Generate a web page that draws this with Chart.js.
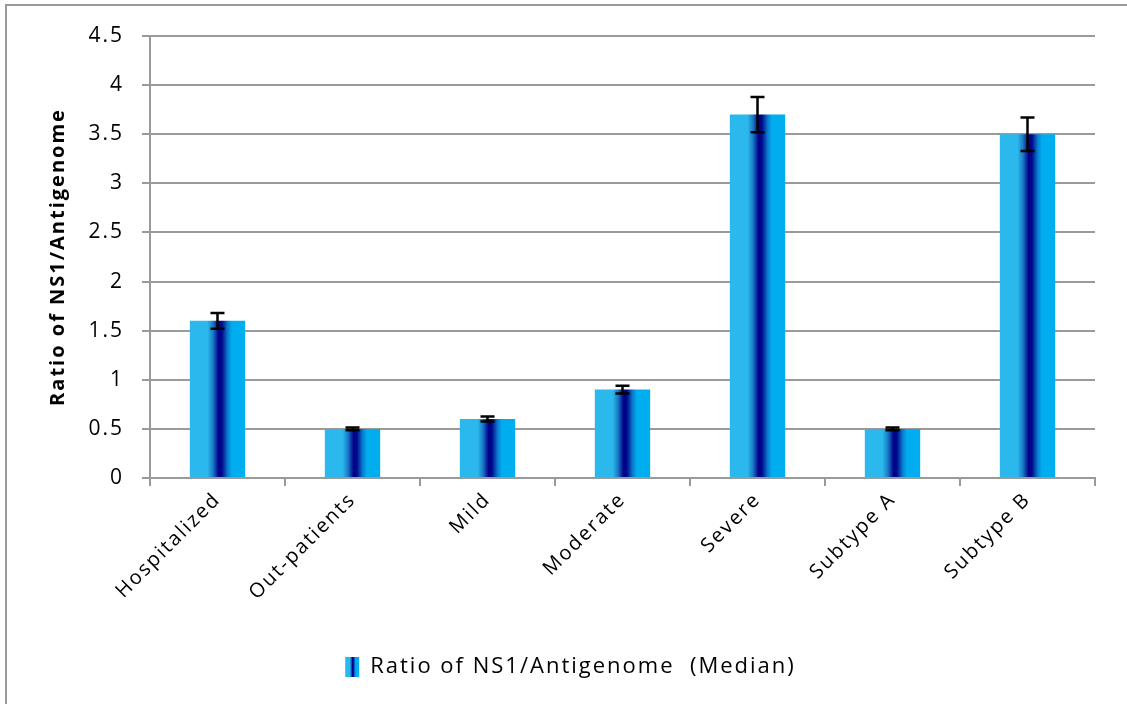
<!DOCTYPE html>
<html>
<head>
<meta charset="utf-8">
<script src="https://cdn.jsdelivr.net/npm/chart.js@4.4.1/dist/chart.umd.min.js"></script>
<style>
  html, body { margin: 0; padding: 0; background: #fff; }
  #wrap { position: relative; width: 1127px; height: 704px; overflow: hidden; }
  #frame { position: absolute; left: 5px; top: 4px; width: 1140px; height: 720px; border: 2px solid #9a9a9a; box-sizing: border-box; }
  canvas { position: absolute; left: 0; top: 0; }
</style>
</head>
<body>
<div id="wrap">
  <div id="frame"></div>
  <canvas id="c" width="1127" height="704"></canvas>
</div>
<script>
// Median NS1/antigenome ratio per patient group, with error half-widths
const categories = ['Hospitalized', 'Out-patients', 'Mild', 'Moderate', 'Severe', 'Subtype A', 'Subtype B'];
const medians = [1.6, 0.5, 0.6, 0.9, 3.7, 0.5, 3.5];
const errors = [0.08, 0.015, 0.025, 0.04, 0.18, 0.015, 0.17];
const yTicks = [0, 0.5, 1, 1.5, 2, 2.5, 3, 3.5, 4, 4.5];
const seriesName = 'Ratio of NS1/Antigenome  (Median)';
const yTitle = 'Ratio of NS1/Antigenome';

const FONT = '"Open Sans", Lato, sans-serif';
const BAR_PCT = 0.41;

function barGradient(ctx, x0, x1) {
  const g = ctx.createLinearGradient(x0, 0, x1, 0);
  g.addColorStop(0, '#2bb8ed');
  g.addColorStop(0.32, '#2bb8ed');
  g.addColorStop(0.42, '#1a78c4');
  g.addColorStop(0.52, '#00008a');
  g.addColorStop(0.58, '#000a8a');
  g.addColorStop(0.68, '#0a78cc');
  g.addColorStop(0.76, '#00aeef');
  g.addColorStop(1, '#00aeef');
  return g;
}

// Slightly wider text spacing for all labels
const spacing = {
  id: 'spacing',
  beforeInit(chart) { chart.ctx.letterSpacing = '2px'; },
  beforeLayout(chart) { chart.ctx.letterSpacing = '2px'; },
  beforeDraw(chart) { chart.ctx.letterSpacing = '2px'; }
};

// Error bars drawn from the same arrays through the chart scales
const errorBars = {
  id: 'errorBars',
  afterDatasetsDraw(chart) {
    const ctx = chart.ctx;
    const meta = chart.getDatasetMeta(0);
    const y = chart.scales.y;
    ctx.save();
    ctx.strokeStyle = '#000';
    ctx.lineWidth = 2.5;
    meta.data.forEach((bar, i) => {
      const x = bar.x;
      const top = y.getPixelForValue(medians[i] + errors[i]);
      const bot = y.getPixelForValue(medians[i] - errors[i]);
      const cap = 7;
      ctx.beginPath();
      ctx.moveTo(x, top); ctx.lineTo(x, bot);
      ctx.moveTo(x - cap, top); ctx.lineTo(x + cap, top);
      ctx.moveTo(x - cap, bot); ctx.lineTo(x + cap, bot);
      ctx.stroke();
    });
    ctx.restore();
  }
};

// Legend swatch painted with the same gradient as the bars
const legendSwatch = {
  id: 'legendSwatch',
  afterDraw(chart) {
    const hb = chart.legend && chart.legend.legendHitBoxes && chart.legend.legendHitBoxes[0];
    if (!hb) return;
    const ctx = chart.ctx;
    const w = 14, h = 20;
    const y = hb.top + (hb.height - h) / 2;
    ctx.save();
    ctx.fillStyle = barGradient(ctx, hb.left, hb.left + w);
    ctx.fillRect(hb.left, y, w, h);
    ctx.restore();
  }
};

const chart = new Chart(document.getElementById('c'), {
  type: 'bar',
  data: {
    labels: categories,
    datasets: [{
      label: seriesName,
      data: medians,
      backgroundColor(context) {
        const ch = context.chart;
        const xs = ch.scales && ch.scales.x;
        if (!xs || context.dataIndex === undefined) return '#2bb8ed';
        const cx = xs.getPixelForValue(context.dataIndex);
        const w = (xs.width / categories.length) * BAR_PCT;
        if (!isFinite(cx) || !isFinite(w)) return '#2bb8ed';
        return barGradient(ch.ctx, cx - w / 2, cx + w / 2);
      },
      borderWidth: 0,
      categoryPercentage: 1,
      barPercentage: BAR_PCT
    }]
  },
  options: {
    responsive: false,
    animation: false,
    devicePixelRatio: 1,
    layout: { padding: { left: 46, right: 32, top: 36, bottom: 16 } },
    plugins: {
      tooltip: { enabled: false },
      legend: {
        position: 'bottom',
        labels: {
          color: '#000',
          font: { family: FONT, size: 22 },
          boxWidth: 14,
          boxHeight: 20,
          padding: 8,
          generateLabels() {
            return [{
              text: seriesName,
              fillStyle: 'rgba(0,0,0,0)',
              strokeStyle: 'rgba(0,0,0,0)',
              lineWidth: 0,
              datasetIndex: 0
            }];
          }
        }
      }
    },
    scales: {
      x: {
        grid: { display: true, drawOnChartArea: false, offset: true, color: '#9a9a9a', lineWidth: 2, tickLength: 8 },
        border: { color: '#9a9a9a', width: 2 },
        ticks: { color: '#000', font: { family: FONT, size: 20 }, minRotation: 45, maxRotation: 45, padding: 2 },
        afterFit(scale) { scale.height = 170; }
      },
      y: {
        min: 0, max: 4.5,
        afterBuildTicks(scale) { scale.ticks = yTicks.map(v => ({ value: v })); },
        grid: { color: '#9a9a9a', lineWidth: 2, tickLength: 8 },
        border: { color: '#9a9a9a', width: 2 },
        ticks: { color: '#000', font: { family: FONT, size: 21 }, padding: 18, callback: v => String(v) },
        title: { display: true, text: yTitle, color: '#000', font: { family: FONT, size: 20, weight: 'bold' }, padding: { top: 0, bottom: 0 } },
        afterFit(scale) { scale.width = 104; }
      }
    }
  },
  plugins: [spacing, errorBars, legendSwatch]
});
</script>
</body>
</html>
